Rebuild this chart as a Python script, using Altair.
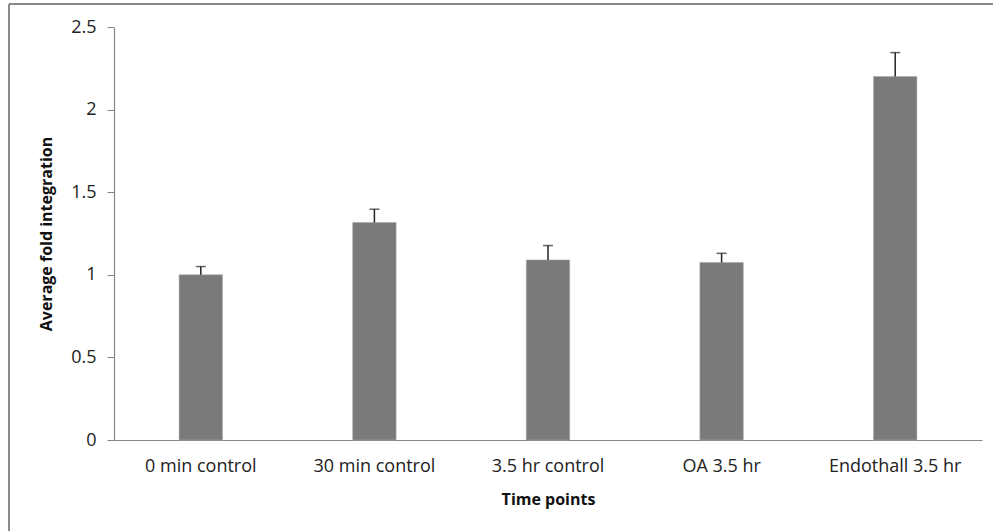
import altair as alt
import pandas as pd

categories = ["0 min control", "30 min control", "3.5 hr control", "OA 3.5 hr", "Endothall 3.5 hr"]
means = [1.0, 1.317, 1.09, 1.075, 2.2]
errors = [0.05, 0.08, 0.087, 0.055, 0.145]

df = pd.DataFrame({"cat": categories, "mean": means, "err": errors})
df["upper"] = df["mean"] + df["err"]

FONT = "Open Sans"
W, H = 868, 413
LEFT, TOP = 114, 27

xenc = alt.X("cat:N", sort=categories,
             scale=alt.Scale(paddingInner=0.75, paddingOuter=0.375),
             axis=alt.Axis(title="Time points", labelAngle=0, ticks=False, tickSize=0,
                           labelPadding=17, labelFontSize=18, labelFont=FONT, labelColor="#222222",
                           titleFontSize=16, titleFont=FONT, titleFontWeight="bold", titleColor="#111111",
                           titlePadding=16, domainColor="#868686", domainWidth=1.2))
yscale = alt.Scale(domain=[0, 2.5], nice=False)

bars = alt.Chart(df).mark_bar(color="#7a7a7a", stroke="#a8a8a8", strokeWidth=0.6).encode(
    x=xenc,
    y=alt.Y("mean:Q", scale=yscale,
            axis=alt.Axis(title="Average fold integration", values=[0, 0.5, 1, 1.5, 2, 2.5],
                          format="~g",
                          grid=False, tickSize=7, tickColor="#868686", domainColor="#868686",
                          domainWidth=1.2, labelPadding=11, labelFontSize=18, labelFont=FONT,
                          labelColor="#222222", titleFontSize=16, titleFont=FONT,
                          titleFontWeight="bold", titleColor="#111111", titlePadding=16)),
)

stems = alt.Chart(df).mark_rule(color="#222222", strokeWidth=1.5).encode(
    x=alt.X("cat:N", sort=categories), y="mean:Q", y2="upper:Q"
)
caps = alt.Chart(df).mark_tick(color="#222222", thickness=1.5, size=10).encode(
    x=alt.X("cat:N", sort=categories), y="upper:Q"
)

frame_left = alt.Chart(df.head(1)).mark_rule(color="#8a8a8a", strokeWidth=2).encode(
    x=alt.value(9 - LEFT), y=alt.value(4 - TOP), y2=alt.value(531 - TOP)
)
frame_top = alt.Chart(df.head(1)).mark_rule(color="#8a8a8a", strokeWidth=2).encode(
    x=alt.value(9 - LEFT), x2=alt.value(993 - LEFT), y=alt.value(4 - TOP)
)

chart = alt.layer(bars, stems, caps, frame_left, frame_top).properties(
    width=W, height=H,
    autosize=alt.AutoSizeParams(type="none"),
    padding={"left": LEFT, "top": TOP, "right": 993 - LEFT - W, "bottom": 531 - TOP - H},
    background="white",
).configure_view(stroke=None)

chart.save("out.html", embed_options={"renderer": "svg", "actions": False})
